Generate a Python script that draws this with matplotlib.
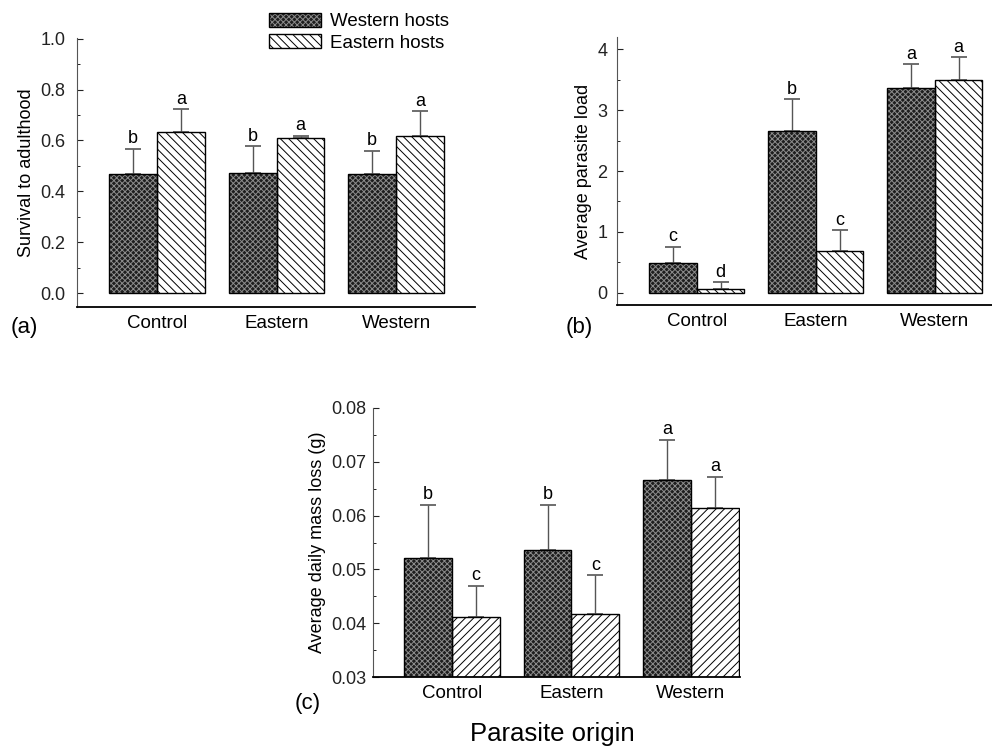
import matplotlib.pyplot as plt
import matplotlib.patches as mpatches
import numpy as np

plt.rcParams["font.family"] = ["Liberation Sans", "DejaVu Sans"]
plt.rcParams["hatch.linewidth"] = 0.7

origins = ["Control", "Eastern", "Western"]

# (a) survival to adulthood
surv_west = [0.468, 0.474, 0.470]
surv_west_se = [0.099, 0.104, 0.089]
surv_east = [0.635, 0.611, 0.618]
surv_east_se = [0.089, 0.007, 0.098]
surv_west_let = ["b", "b", "b"]
surv_east_let = ["a", "a", "a"]

# (b) average parasite load
load_west = [0.49, 2.66, 3.37]
load_west_se = [0.27, 0.52, 0.38]
load_east = [0.07, 0.69, 3.49]
load_east_se = [0.10, 0.34, 0.38]
load_west_let = ["c", "b", "a"]
load_east_let = ["d", "c", "a"]

# (c) average daily mass loss
mass_west = [0.0521, 0.0536, 0.0666]
mass_west_se = [0.0099, 0.0084, 0.0075]
mass_east = [0.0412, 0.0418, 0.0615]
mass_east_se = [0.0058, 0.0071, 0.0057]
mass_west_let = ["b", "b", "a"]
mass_east_let = ["c", "c", "a"]

W = 992
H = 748
fig = plt.figure(figsize=(W / 100, H / 100), dpi=100)


def px_axes(l, r, b, t):
    return fig.add_axes([l / W, 1 - b / H, (r - l) / W, (b - t) / H])


# dark stipple: dark fill with a fine light cross-hatch, black outline on top
stip_fill = dict(facecolor="#1e1e1e", edgecolor="#8c8c8c", hatch="xxxxxx", linewidth=0)
stip_line = dict(fill=False, edgecolor="black", linewidth=1.0)
bw = 0.4
x = np.arange(3)


def panel(ax, west, west_se, east, east_se, wl, el, ylim, xlim, yticks, ylabel, ehatch, fmt, pad):
    ax.bar(x - bw / 2, west, bw, **stip_fill, zorder=2)
    ax.bar(x - bw / 2, west, bw, **stip_line, zorder=2.1)
    ax.bar(x + bw / 2, east, bw, facecolor="white", edgecolor="black",
           hatch=ehatch, linewidth=1.0, zorder=2)
    for xs, vals, se in [(x - bw / 2, west, west_se), (x + bw / 2, east, east_se)]:
        ax.errorbar(xs, vals, yerr=[np.zeros(3), se], fmt="none", ecolor="#555555",
                    elinewidth=1.0, capsize=6, capthick=1.2, zorder=1)
    for xs, vals, se, lets in [(x - bw / 2, west, west_se, wl), (x + bw / 2, east, east_se, el)]:
        for xi, v, s, l in zip(xs, vals, se, lets):
            ax.annotate(l, (xi, v + s), xytext=(0, 1), textcoords="offset points",
                        ha="center", va="bottom", fontsize=13)
    ax.set_ylim(*ylim)
    ax.set_xlim(*xlim)
    ax.set_yticks(yticks)
    ax.set_yticklabels([fmt.format(t) for t in yticks])
    mids = (np.array(yticks[:-1]) + np.array(yticks[1:])) / 2
    ax.set_yticks(mids, minor=True)
    ax.tick_params(axis="y", direction="in", length=4, width=0.8, labelsize=13, pad=pad,
                   colors="#222222")
    ax.tick_params(axis="y", which="minor", direction="in", length=2, width=0.6)
    ax.set_xticks(x)
    ax.set_xticklabels(origins, fontsize=13.5)
    ax.tick_params(axis="x", length=0, pad=6)
    ax.set_ylabel(ylabel, fontsize=13)
    for s in ["top", "right"]:
        ax.spines[s].set_visible(False)
    ax.spines["left"].set_color("#555555")
    ax.spines["bottom"].set_linewidth(1.3)


ax1 = px_axes(77, 475, 307, 38)
panel(ax1, surv_west, surv_west_se, surv_east, surv_east_se, surv_west_let, surv_east_let,
      (-0.055, 1.003), (-0.67, 2.66), [0.0, 0.2, 0.4, 0.6, 0.8, 1.0],
      "Survival to adulthood", "\\\\\\\\", "{:.1f}", 8.5)

ax2 = px_axes(617, 992, 305, 37)
panel(ax2, load_west, load_west_se, load_east, load_east_se, load_west_let, load_east_let,
      (-0.2, 4.2), (-0.67, 2.48), [0, 1, 2, 3, 4],
      "Average parasite load", "\\\\\\\\", "{:.0f}", 7)

ax3 = px_axes(373, 740, 677, 408)
panel(ax3, mass_west, mass_west_se, mass_east, mass_east_se, mass_west_let, mass_east_let,
      (0.03, 0.08), (-0.66, 2.41), [0.03, 0.04, 0.05, 0.06, 0.07, 0.08],
      "Average daily mass loss (g)", "////", "{:.2f}", 4.5)

leg_handles = [(mpatches.Patch(**stip_fill), mpatches.Patch(**stip_line)),
               mpatches.Patch(facecolor="white", edgecolor="black", hatch="\\\\\\\\", linewidth=1.0)]
fig.legend(leg_handles, ["Western hosts", "Eastern hosts"], loc="upper left",
           bbox_to_anchor=(267 / W, 1 - 11 / H), frameon=False, fontsize=13.5,
           handlelength=2.8, handleheight=0.75, handletextpad=0.45, labelspacing=0.22,
           borderpad=0.1, borderaxespad=0)

fig.text(24 / W, 1 - 327 / H, "(a)", fontsize=16, ha="center", va="center")
fig.text(579 / W, 1 - 327 / H, "(b)", fontsize=16, ha="center", va="center")
fig.text(308 / W, 1 - 704 / H, "(c)", fontsize=16, ha="center", va="center")
fig.text(552 / W, 1 - 734 / H, "Parasite origin", fontsize=18.5, ha="center", va="center")

fig.savefig("out.png", dpi=100)
